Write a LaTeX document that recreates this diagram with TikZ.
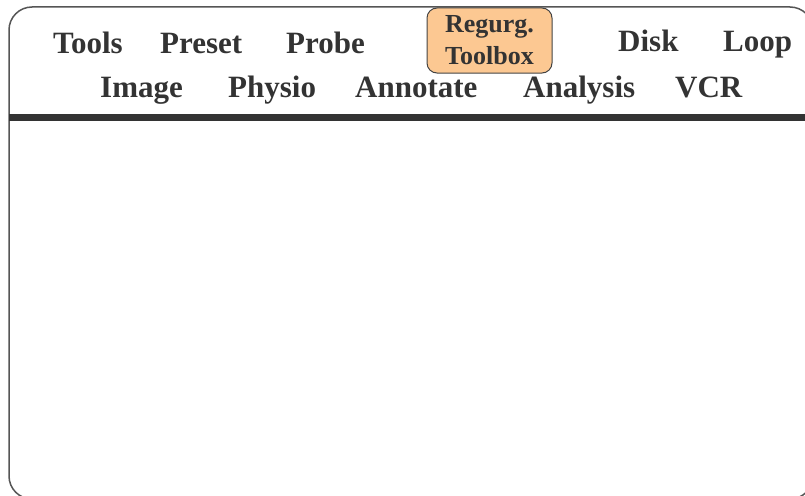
\documentclass[tikz,border=0pt]{standalone}
\usepackage{fontspec}
\setmainfont{Liberation Serif}
\begin{document}
\begin{tikzpicture}[x=1pt,y=-1pt,
  menulabel/.style={anchor=base west, inner sep=0pt, text=menutext,
    font=\bfseries\fontsize{31}{31}\selectfont},
  toolbox/.style={draw=boxline, line width=1pt, fill=boxfill,
    rounded corners=10pt, inner sep=0pt, minimum width=125pt,
    minimum height=65pt, align=center, text=menutext,
    font=\bfseries\fontsize{26}{32}\selectfont},
  frameline/.style={draw=framegray, line width=1.5pt, rounded corners=23pt}]
\definecolor{menutext}{HTML}{333333}
\definecolor{framegray}{HTML}{555555}
\definecolor{boxline}{HTML}{444444}
\definecolor{boxfill}{HTML}{FCC892}
\definecolor{barcolor}{HTML}{333333}

\useasboundingbox (0,0) rectangle (805,495);
\clip (0,0) rectangle (805,495);

% outer panel frame and the menu separator bar
\draw[frameline] (9,7) rectangle (813,499);
\fill[barcolor] (9,114) rectangle (805,121);

% first menu row
\node[menulabel] (tools)  at (53,53)  {Tools};
\node[menulabel] (preset) at (160,53) {Preset};
\node[menulabel] (probe)  at (286,53) {Probe};
\node[toolbox]   (regurg) at (489.5,40.5) {Regurg.\\Toolbox};
\node[menulabel] (disk)   at (618,52) {Disk};
\node[menulabel] (loop)   at (723,52) {Loop};

% second menu row
\node[menulabel] (image)    at (100,97) {Image};
\node[menulabel] (physio)   at (228,97) {Physio};
\node[menulabel] (annotate) at (355,97) {Annotate};
\node[menulabel] (analysis) at (523,97) {Analysis};
\node[menulabel] (vcr)      at (675,97) {VCR};
\end{tikzpicture}
\end{document}
